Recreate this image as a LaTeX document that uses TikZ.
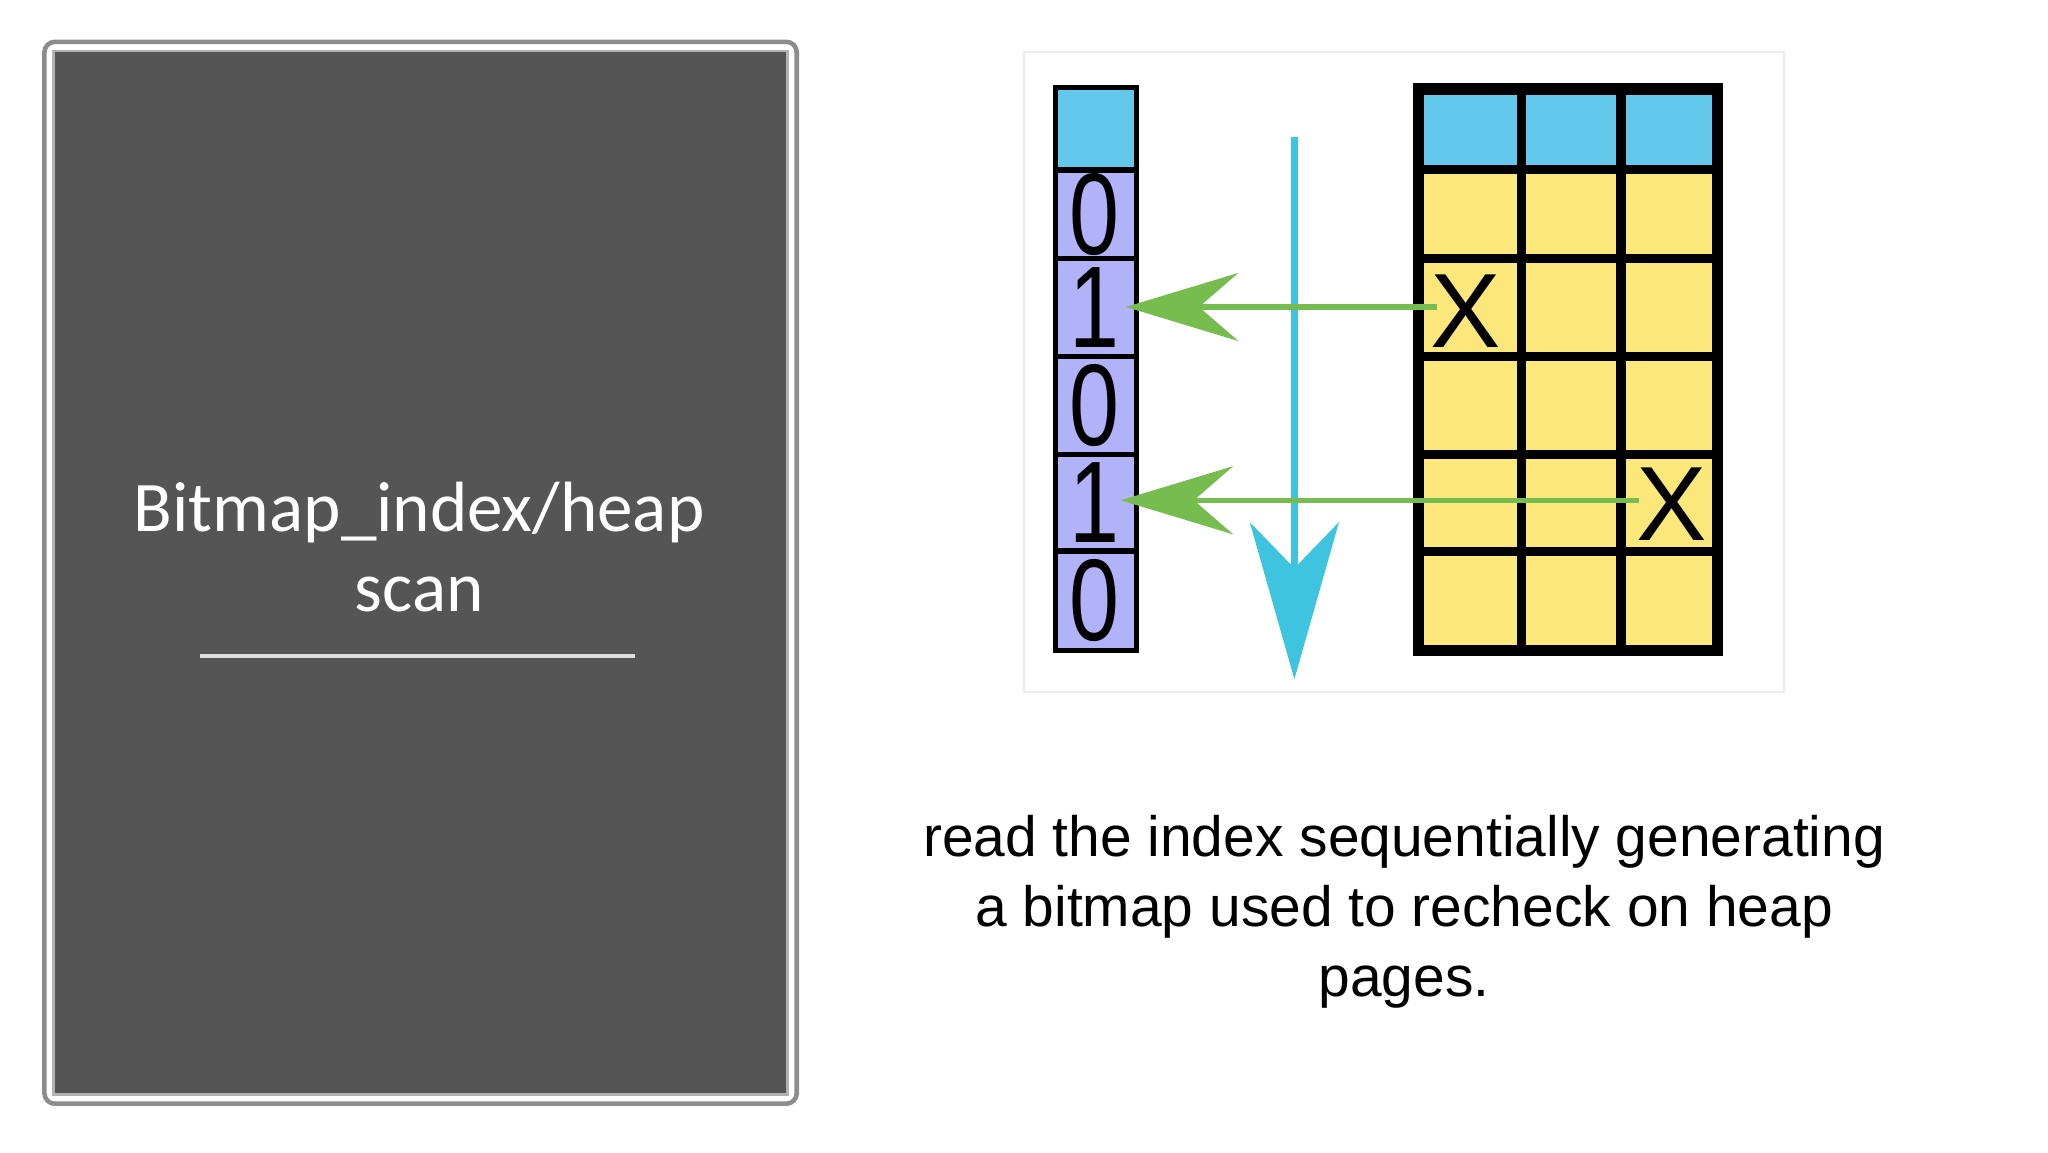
\documentclass[tikz,border=0pt]{standalone}
\usepackage{fontspec}
\setmainfont{Liberation Sans}
\newfontfamily\panelfont{Carlito}
\usetikzlibrary{arrows.meta}
\definecolor{panel}{HTML}{555555}
\definecolor{hdr}{HTML}{62C8EC}
\definecolor{lav}{HTML}{B2B2F8}
\definecolor{yel}{HTML}{FBE77A}
\definecolor{grn}{HTML}{76BC4E}
\definecolor{cyn}{HTML}{3EC4DE}
\tikzset{
 digit/.style={inner sep=0pt,font=\fontsize{23}{23}\selectfont},
 ptr/.style={draw=grn,line width=0.04cm,-{Stealth[length=0.86cm,width=0.52cm,inset=0.3cm]}},
}
\begin{document}
\begin{tikzpicture}[x=1cm,y=-1cm]
\useasboundingbox (0,0) rectangle (15.68,8.82);
% left panel
\draw[draw=gray!90,line width=0.035cm,fill=white,rounded corners=0.08cm] (0.34,0.32) rectangle (6.10,8.45);
\draw[draw=gray!60,line width=0.02cm,fill=panel] (0.41,0.39) rectangle (6.03,8.38);
\node[text=white,align=center,font=\panelfont\fontsize{15.5}{17.5}\selectfont] (title) at (3.21,4.19) {Bitmap\_index/heap\\scan};
\draw[gray!25,line width=0.03cm] (1.53,5.02) -- (4.86,5.02);
% image box
\draw[black!8,fill=white] (7.84,0.40) rectangle (13.66,5.30);
% bitmap column
\fill[hdr] (8.08,0.67) rectangle (8.70,1.30);
\fill[lav] (8.08,1.30) rectangle (8.70,4.98);
\draw[line width=1.2pt] (8.08,0.67) rectangle (8.70,4.98);
\foreach \y in {1.30,1.98,2.73,3.48,4.22} \draw[line width=1.2pt] (8.08,\y) -- (8.70,\y);
\foreach \d/\y [count=\i] in {0/1.64,1/2.355,0/3.105,1/3.85,0/4.60}{
  \node[digit] (b\i) at (8.38,\y) {\scalebox{0.85}[1.1]{\d}};
}
% table
\fill[hdr] (10.86,0.68) rectangle (13.15,1.30);
\fill[yel] (10.86,1.30) rectangle (13.15,4.98);
\foreach \y in {1.30,1.98,2.73,3.48,4.22} \draw[line width=2pt] (10.86,\y) -- (13.15,\y);
\foreach \x in {11.65,12.41} \draw[line width=2pt] (\x,0.68) -- (\x,4.98);
\draw[line width=2.5pt] (10.86,0.68) rectangle (13.15,4.98);
\node[digit] (x1) at (11.22,2.38) {X};
\node[digit] (x2) at (12.80,3.86) {X};
% arrows
\coordinate (ct) at (9.91,1.05);
\coordinate (cb) at (9.91,5.20);
\draw[cyn,line width=0.05cm,-{Stealth[length=1.2cm,width=0.68cm,inset=0.35cm]}] (ct) -- (cb);
\coordinate (g1s) at (11.00,2.35);
\coordinate (g1e) at (8.62,2.35);
\coordinate (g2s) at (12.55,3.83);
\coordinate (g2e) at (8.58,3.83);
\draw[ptr] (g1s) -- (g1e);
\draw[ptr] (g2s) -- (g2e);
% caption
\node[align=center,font=\fontsize{12.4}{15.2}\selectfont] (cap) at (10.75,6.98) {read the index sequentially generating\\a bitmap used to recheck on heap\\pages.};
\end{tikzpicture}
\end{document}
